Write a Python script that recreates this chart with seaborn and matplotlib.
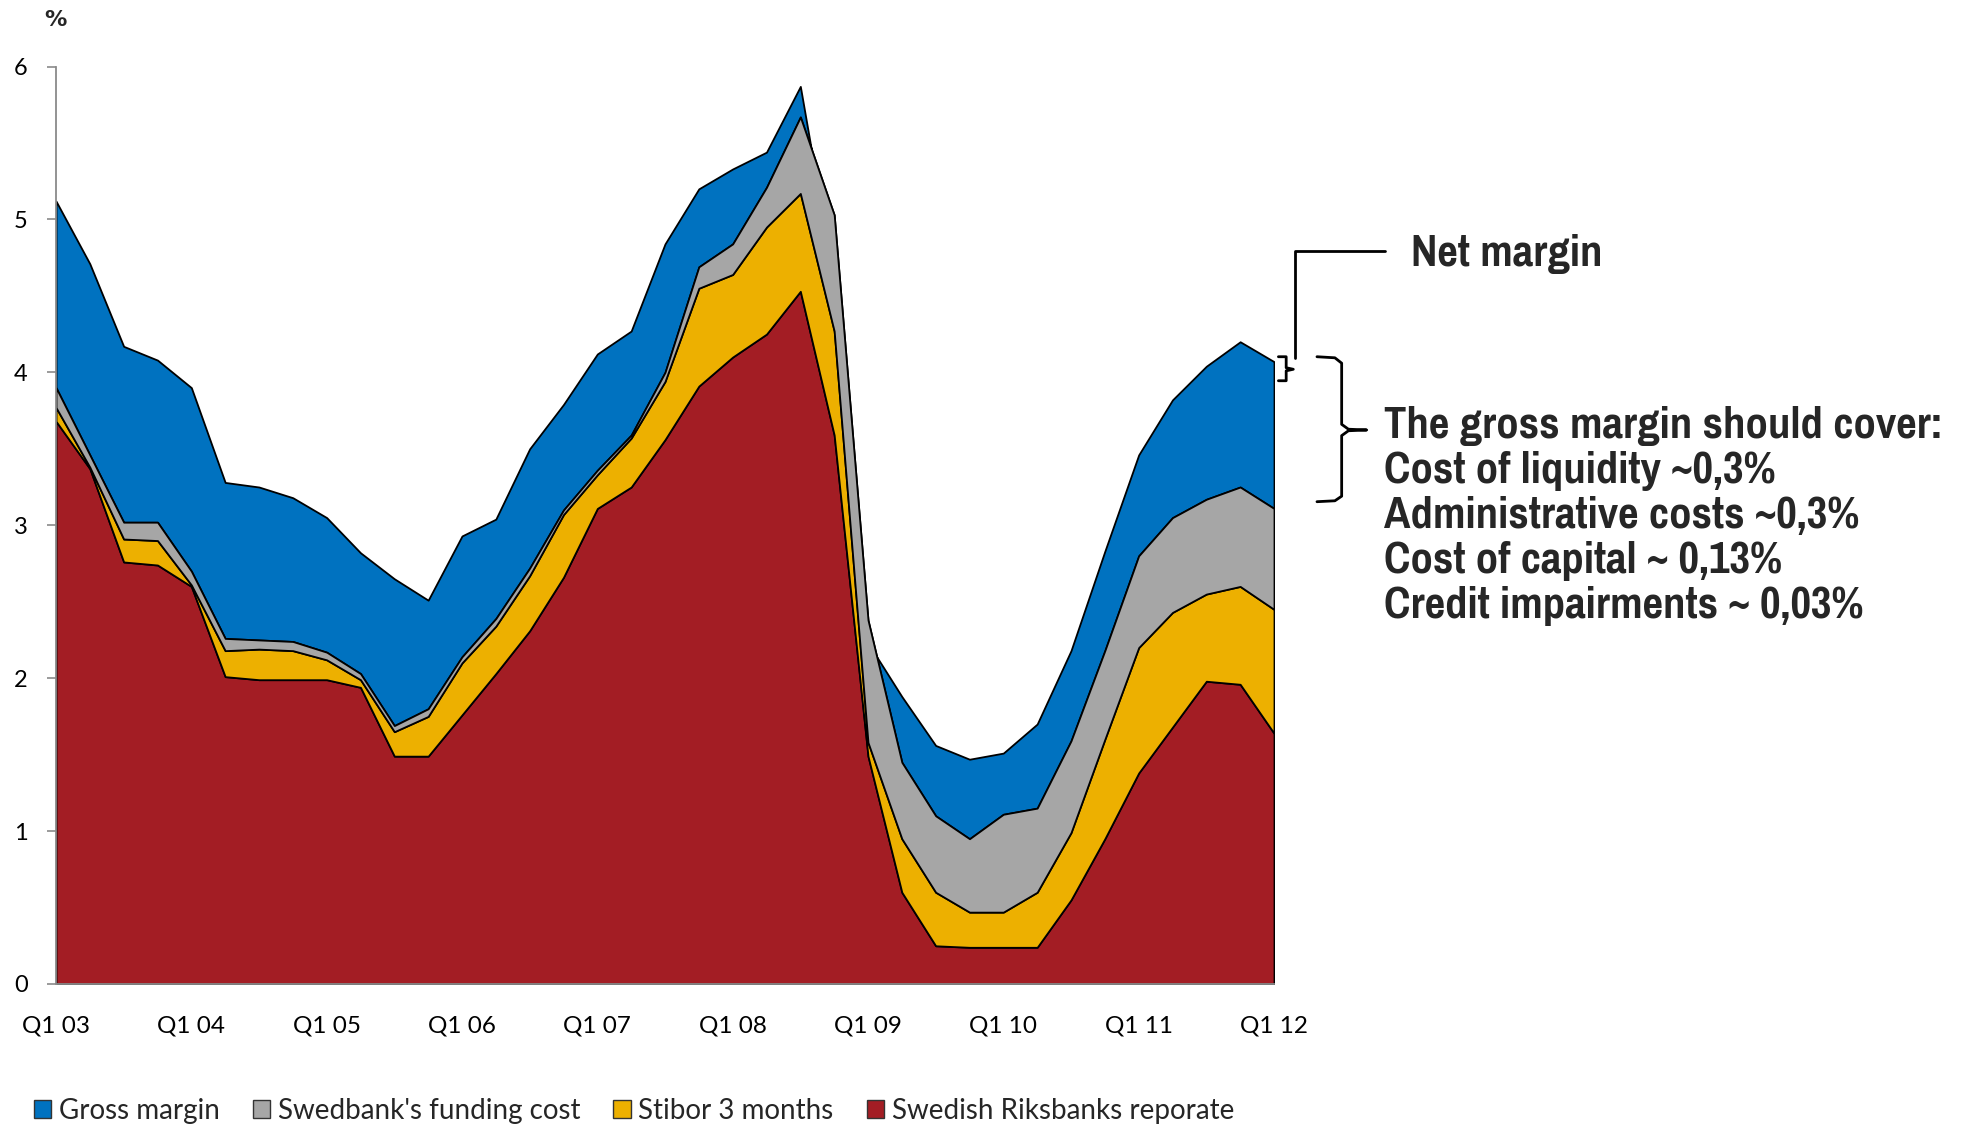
import numpy as np
import matplotlib
matplotlib.use("Agg")
import matplotlib.pyplot as plt
from matplotlib.patches import Patch
import seaborn as sns

# Quarterly observations, Q1 2003 .. Q1 2012
quarters = [
    "Q1 03", "Q2 03", "Q3 03", "Q4 03",
    "Q1 04", "Q2 04", "Q3 04", "Q4 04",
    "Q1 05", "Q2 05", "Q3 05", "Q4 05",
    "Q1 06", "Q2 06", "Q3 06", "Q4 06",
    "Q1 07", "Q2 07", "Q3 07", "Q4 07",
    "Q1 08", "Q2 08", "Q3 08", "Q4 08",
    "Q1 09", "Q2 09", "Q3 09", "Q4 09",
    "Q1 10", "Q2 10", "Q3 10", "Q4 10",
    "Q1 11", "Q2 11", "Q3 11", "Q4 11",
    "Q1 12",
]
tick_labels = ["Q1 03", "Q1 04", "Q1 05", "Q1 06", "Q1 07",
               "Q1 08", "Q1 09", "Q1 10", "Q1 11", "Q1 12"]
y_ticks = [0, 1, 2, 3, 4, 5, 6]

# Stacked layers, bottom to top (percentage points)
riksbank_reporate = [3.68, 3.37, 2.76, 2.74, 2.60, 2.01, 1.99, 1.99, 1.99, 1.94,
                     1.49, 1.49, 1.76, 2.03, 2.31, 2.66, 3.11, 3.25, 3.56, 3.91,
                     4.10, 4.25, 4.53, 3.59, 1.49, 0.60, 0.25, 0.24, 0.24, 0.24,
                     0.55, 0.95, 1.38, 1.68, 1.98, 1.96, 1.64]
stibor_3m = [0.09, 0.01, 0.15, 0.16, 0.01, 0.17, 0.20, 0.19, 0.13, 0.05,
             0.16, 0.26, 0.34, 0.31, 0.36, 0.41, 0.22, 0.32, 0.38, 0.64,
             0.54, 0.70, 0.64, 0.68, 0.09, 0.35, 0.35, 0.23, 0.23, 0.36,
             0.44, 0.65, 0.82, 0.75, 0.57, 0.64, 0.81]
funding_cost = [0.13, 0.08, 0.11, 0.12, 0.09, 0.08, 0.06, 0.06, 0.05, 0.04,
                0.04, 0.05, 0.04, 0.05, 0.05, 0.03, 0.03, 0.02, 0.06, 0.14,
                0.20, 0.26, 0.50, 0.76, 0.80, 0.50, 0.50, 0.48, 0.64, 0.55,
                0.60, 0.58, 0.60, 0.62, 0.62, 0.65, 0.66]
gross_margin = [1.22, 1.25, 1.15, 1.06, 1.20, 1.02, 1.00, 0.94, 0.88, 0.79,
                0.96, 0.71, 0.79, 0.65, 0.78, 0.69, 0.76, 0.68, 0.84, 0.51,
                0.49, 0.23, 0.20, -0.43, -0.15, 0.43, 0.46, 0.52, 0.40, 0.55,
                0.59, 0.65, 0.66, 0.77, 0.87, 0.95, 0.96]

series_names = ["Swedish Riksbanks reporate", "Stibor 3 months",
                "Swedbank's funding cost", "Gross margin"]
colors = ["#A31D24", "#EDB000", "#A6A6A6", "#0072C0"]

sns.set_theme(style="white")
plt.rcParams["font.family"] = ["Lato", "DejaVu Sans"]

W, H = 1966, 1126
fig = plt.figure(figsize=(W / 100, H / 100), dpi=100)
ax = fig.add_axes([56 / W, 142 / H, 1218 / W, 917.5 / H])

x = np.arange(len(quarters))
polys = ax.stackplot(x, riksbank_reporate, stibor_3m, funding_cost, gross_margin,
                     colors=colors, edgecolor="black", linewidth=1.3)
for p in polys[:3]:
    p.set_zorder(1.2)
polys[3].set_zorder(1.0)  # negative margins stay hidden under the funding band

ax.set_xlim(0, len(quarters) - 1)
ax.set_ylim(0, 6)
ax.set_xticks(x[::4], tick_labels)
ax.set_yticks(y_ticks, [str(v) for v in y_ticks])
ax.tick_params(axis="x", length=0, pad=23, labelsize=17.5, colors="black")
ax.tick_params(axis="y", left=True, direction="out", length=6.5, width=1.2,
               color="#8A8A8A", pad=14, labelsize=17, labelcolor="black")
sns.despine(ax=ax)
for side in ("left", "bottom"):
    ax.spines[side].set_color("#8A8A8A")
    ax.spines[side].set_linewidth(1.3)
ax.grid(False)

fig.text(55 / W, 1 - 20 / H, "%", ha="center", va="center",
         fontsize=16, fontweight="bold", family="DejaVu Sans")

# Legend along the bottom
order = [3, 2, 1, 0]
handles = [Patch(facecolor=colors[i], edgecolor="#333333", linewidth=1.0) for i in order]
labels = [series_names[i] for i in order]
fig.legend(handles, labels, loc="center left", bbox_to_anchor=(34 / W, 1 - 1111 / H),
           ncol=4, frameon=False, fontsize=20, handlelength=0.62, handleheight=0.62,
           handletextpad=0.27, columnspacing=1.2, borderpad=0, borderaxespad=0)

# Brackets and notes to the right of the last quarter
line_kw = dict(color="black", linewidth=2.0, clip_on=False, solid_joinstyle="round")
ax.plot([39.28, 36.62, 36.62], [4.793, 4.793, 4.094], **line_kw)
ax.plot([36.13, 36.36, 36.36, 36.57, 36.36, 36.36, 36.13],
        [4.102, 4.102, 4.03, 4.02, 4.01, 3.945, 3.945], **line_kw)
ax.plot([37.27, 37.8, 38.0, 38.0, 38.2, 38.74, 38.2, 38.0, 38.0, 37.8, 37.27],
        [4.102, 4.095, 4.06, 3.66, 3.628, 3.623, 3.618, 3.586, 3.19, 3.16, 3.154],
        **line_kw)

note_font = dict(fontsize=35, fontweight="bold",
                 family=["Pragati Narrow", "Roboto Condensed", "Liberation Sans"],
                 clip_on=False)
ax.text(40.04, 4.771, "Net margin", ha="left", va="center", **note_font)
notes = ["The gross margin should cover:",
         "Cost of liquidity ~0,3%",
         "Administrative costs ~0,3%",
         "Cost of capital ~ 0,13%",
         "Credit impairments ~ 0,03%"]
for i, line in enumerate(notes):
    ax.text(39.26, 3.647 - i * 0.293, line, ha="left", va="center", **note_font)

fig.savefig("out.png", dpi=100)
